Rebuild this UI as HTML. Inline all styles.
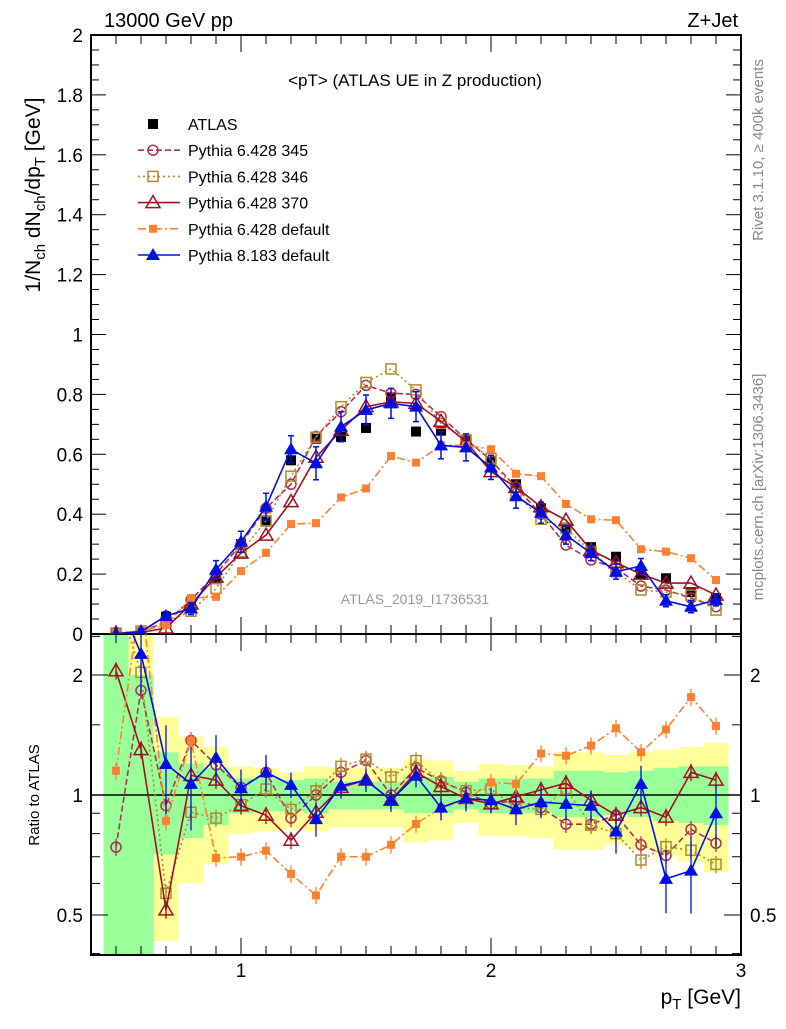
<!DOCTYPE html>
<html><head><meta charset="utf-8"><style>
body{margin:0;background:#fff;font-family:"Liberation Sans",sans-serif}
svg text{font-family:"Liberation Sans",sans-serif}
</style></head><body>
<svg id="c" width="786" height="1024" xmlns="http://www.w3.org/2000/svg"></svg>
<script>
const xs=[0.5,0.6,0.7,0.8,0.9,1.0,1.1,1.2,1.3,1.4,1.5,1.6,1.7,1.8,1.9,2.0,2.1,2.2,2.3,2.4,2.5,2.6,2.7,2.8,2.9];
const atlas=[0.003,0.005,0.058,0.09,0.183,0.3,0.375,0.58,0.652,0.658,0.688,0.79,0.676,0.679,0.648,0.575,0.5,0.42,0.355,0.29,0.258,0.2,0.186,0.14,0.12];
const p345=[0.003,0.008,0.04,0.114,0.2,0.3,0.42,0.5,0.66,0.742,0.83,0.804,0.8,0.726,0.65,0.58,0.49,0.4,0.297,0.247,0.22,0.16,0.147,0.12,0.091];
const p346=[0.003,0.01,0.04,0.076,0.152,0.275,0.378,0.527,0.657,0.759,0.84,0.885,0.815,0.703,0.648,0.586,0.47,0.383,0.352,0.275,0.208,0.147,0.14,0.13,0.08];
const p370=[0.003,0.005,0.02,0.1,0.19,0.27,0.33,0.442,0.59,0.68,0.759,0.775,0.77,0.71,0.642,0.542,0.49,0.425,0.38,0.28,0.238,0.2,0.17,0.17,0.13];
const p6def=[0.003,0.01,0.03,0.12,0.124,0.21,0.271,0.367,0.37,0.456,0.486,0.594,0.572,0.63,0.63,0.617,0.535,0.527,0.434,0.383,0.38,0.283,0.275,0.253,0.18];
const p8def=[0.001,0.008,0.06,0.085,0.215,0.308,0.425,0.617,0.57,0.692,0.748,0.77,0.759,0.63,0.623,0.556,0.46,0.405,0.33,0.27,0.208,0.227,0.111,0.091,0.114];
const p8err=[0.005,0.01,0.015,0.02,0.03,0.035,0.045,0.045,0.055,0.05,0.05,0.05,0.05,0.045,0.045,0.04,0.04,0.035,0.03,0.025,0.025,0.025,0.02,0.02,0.02];
const r345=[0.74,1.83,0.94,1.37,1.19,1.045,1.14,0.875,1.0,1.14,1.22,1.0,1.17,1.085,1.015,0.95,0.97,0.93,0.845,0.845,0.89,0.75,0.705,0.82,0.757];
const r346=[null,2.03,0.567,0.905,0.875,0.946,1.035,0.92,1.025,1.18,1.23,1.11,1.22,1.076,1.025,1.035,0.93,0.92,1.035,0.84,0.8,0.687,0.742,0.727,0.67];
const r370=[2.05,1.3,0.515,1.12,1.09,0.94,0.89,0.77,0.905,1.045,1.09,0.97,1.14,1.05,0.98,0.95,0.99,1.03,1.07,0.97,0.89,0.93,0.88,1.14,1.09];
const r6def=[1.15,null,0.86,1.37,0.695,0.7,0.725,0.634,0.56,0.7,0.7,0.75,0.846,0.93,0.97,1.076,1.066,1.27,1.255,1.33,1.47,1.28,1.46,1.76,1.49];
const r8def=[null,2.26,1.196,1.066,1.24,1.04,1.14,1.06,0.87,1.055,1.09,0.97,1.118,0.93,0.98,0.97,0.92,0.96,0.95,0.94,0.81,1.066,0.616,0.646,0.9];
const yelUp=[3,3,1.57,1.4,1.32,1.18,1.17,1.14,1.18,1.17,1.17,1.17,1.23,1.22,1.15,1.2,1.19,1.18,1.28,1.28,1.26,1.28,1.3,1.32,1.35];
const yelDn=[0.3,0.3,0.43,0.6,0.67,0.8,0.81,0.82,0.81,0.83,0.83,0.83,0.76,0.77,0.85,0.79,0.79,0.78,0.73,0.73,0.75,0.73,0.7,0.68,0.64];
const grnUp=[3,2.0,1.28,1.2,1.17,1.1,1.1,1.09,1.1,1.08,1.08,1.08,1.11,1.11,1.08,1.1,1.1,1.1,1.15,1.15,1.14,1.15,1.17,1.18,1.18];
const grnDn=[0.3,0.3,0.71,0.78,0.84,0.9,0.91,0.91,0.9,0.92,0.92,0.92,0.9,0.9,0.92,0.9,0.9,0.9,0.88,0.88,0.89,0.88,0.86,0.85,0.84];
const yTicks=[0,0.2,0.4,0.6,0.8,1,1.2,1.4,1.6,1.8,2];
const yTickLabels=["0","0.2","0.4","0.6","0.8","1","1.2","1.4","1.6","1.8","2"];
const rTicks=[0.5,1,2];const rTickLabels=["0.5","1","2"];
const xTicks=[1,2,3];const xTickLabels=["1","2","3"];

const svg=document.getElementById('c');const NS="http://www.w3.org/2000/svg";
const L=91,R=741,T=35,MB=634,RB=955;
const X=v=>L+(v-0.4)*250;
const Y=v=>MB-(v)*299.5;
const RY=r=>795-120*Math.log2(r);
function el(t,a,p){const e=document.createElementNS(NS,t);for(const k in a)e.setAttribute(k,a[k]);(p||svg).appendChild(e);return e;}
function tx(s,a){const e=el('text',a);e.textContent=s;return e;}
// clip
const defs=el('defs',{});
const cp=el('clipPath',{id:'cm'},defs);el('rect',{x:L,y:T,width:R-L,height:MB-T},cp);
const cr=el('clipPath',{id:'cr'},defs);el('rect',{x:L,y:MB,width:R-L,height:RB-MB},cr);
// bands
const gb=el('g',{'clip-path':'url(#cr)'});


xs.forEach((x,i)=>{
 const y1=RY(Math.min(yelUp[i],3)),y2=RY(Math.max(yelDn[i],0.3));
 const r=el('rect',{x:X(x-0.05),y:y1,width:25,height:y2-y1,fill:'#ffff99'},gb);
 
 
});
xs.forEach((x,i)=>{
 const y1=RY(Math.min(grnUp[i],3)),y2=RY(Math.max(grnDn[i],0.3));
 const r=el('rect',{x:X(x-0.05),y:y1,width:25,height:y2-y1,fill:'#99ff99'},gb);
 
 
});
el('line',{x1:L,x2:R,y1:795,y2:795,stroke:'#000','stroke-width':1.5});
// frames
el('rect',{x:L,y:T,width:R-L,height:MB-T,fill:'none',stroke:'#000','stroke-width':2});
el('rect',{x:L,y:MB,width:R-L,height:RB-MB,fill:'none',stroke:'#000','stroke-width':2});
// ticks
for(let v=0;v<=2.001;v+=0.05){const y=Y(v);const big=Math.abs(v*5-Math.round(v*5))<1e-6;const len=big?15:8;
 el('line',{x1:L,x2:L+len,y1:y,y2:y,stroke:'#000'});el('line',{x1:R,x2:R-len,y1:y,y2:y,stroke:'#000'});}
yTicks.forEach((v,i)=>{const t=tx(yTickLabels[i],{x:83,y:Y(v)+7,'text-anchor':'end','font-size':19});
 });
for(let v=0.4;v<=3.001;v+=0.1){const x=X(v);const big=Math.abs(v-Math.round(v))<1e-6;const len=big?17:9;
 [MB,RB].forEach(b=>el('line',{x1:x,x2:x,y1:b,y2:b-len,stroke:'#000'}));
 el('line',{x1:x,x2:x,y1:T,y2:T+len,stroke:'#000'});el('line',{x1:x,x2:x,y1:MB,y2:MB+len,stroke:'#000'});}
xTicks.forEach((v,i)=>{const t=tx(xTickLabels[i],{x:X(v),y:977,'text-anchor':'middle','font-size':19});
 });
[0.4,0.5,0.6,0.7,0.8,0.9,1,1.5,2,2.5].forEach(v=>{const y=RY(v);if(y<MB||y>RB)return;const big=rTicks.includes(v);const len=big?17:9;
 el('line',{x1:L,x2:L+len,y1:y,y2:y,stroke:'#000'});el('line',{x1:R,x2:R-len,y1:y,y2:y,stroke:'#000'});});
rTicks.forEach((v,i)=>{const t=tx(rTickLabels[i],{x:83,y:RY(v)+7,'text-anchor':'end','font-size':19});
 
 const t2=tx(rTickLabels[i],{x:750,y:RY(v)+7,'font-size':19});
 });
// markers
function marker(g,type,x,y,col){
 const s=5;
 if(type==='fsq')el('rect',{x:x-s,y:y-s,width:2*s,height:2*s,fill:col},g);
 else if(type==='osq')el('rect',{x:x-s,y:y-s,width:2*s,height:2*s,fill:'none',stroke:col,'stroke-width':1.5},g);
 else if(type==='oci')el('circle',{cx:x,cy:y,r:s,fill:'none',stroke:col,'stroke-width':1.5},g);
 else if(type==='otr')el('polygon',{points:`${x},${y-7} ${x-7},${y+5} ${x+7},${y+5}`,fill:'none',stroke:col,'stroke-width':1.5},g);
 else if(type==='ftr')el('polygon',{points:`${x},${y-7} ${x-7},${y+5} ${x+7},${y+5}`,fill:col},g);
 else if(type==='fsqs')el('rect',{x:x-4,y:y-4,width:8,height:8,fill:col},g);
}
const series=[
 {n:'pythia-6428-345',m:p345,r:r345,col:'#b03050',dash:'6,3',mk:'oci'},
 {n:'pythia-6428-346',m:p346,r:r346,col:'#b08830',dash:'2,3',mk:'osq'},
 {n:'pythia-6428-370',m:p370,r:r370,col:'#a01020',dash:'',mk:'otr'},
 {n:'pythia-6428-default',m:p6def,r:r6def,col:'#ff8030',dash:'8,3,2,3',mk:'fsqs'},
 {n:'pythia-8183-default',m:p8def,r:r8def,col:'#0010e0',dash:'',mk:'ftr',err:p8err}];
// atlas in main
const ga=el('g',{'clip-path':'url(#cm)'});


xs.forEach((x,i)=>marker(ga,'fsq',X(x),Y(atlas[i]),'#000'));
series.forEach(s=>{
 const g=el('g',{'clip-path':'url(#cm)'});
 
 
 el('polyline',{points:xs.map((x,i)=>X(x)+','+Y(s.m[i])).join(' '),fill:'none',stroke:s.col,'stroke-width':1.6,'stroke-dasharray':s.dash},g);
 if(s.err)xs.forEach((x,i)=>{const e=s.err[i];el('line',{x1:X(x),x2:X(x),y1:Y(s.m[i]+e),y2:Y(s.m[i]-e),stroke:s.col,'stroke-width':1.5},g);
  [e,-e].forEach(d=>el('line',{x1:X(x)-3,x2:X(x)+3,y1:Y(s.m[i]+d),y2:Y(s.m[i]+d),stroke:s.col,'stroke-width':1.5},g));});
 xs.forEach((x,i)=>marker(g,s.mk,X(x),Y(s.m[i]),s.col));
 const gr=el('g',{'clip-path':'url(#cr)'});
 
 
 let segs=[],cur=[];
 xs.forEach((x,i)=>{const v=s.r[i];if(v==null){cur.push(X(x)+','+(MB-40));}else cur.push(X(x)+','+RY(v));});
 el('polyline',{points:cur.join(' '),fill:'none',stroke:s.col,'stroke-width':1.6,'stroke-dasharray':s.dash},gr);
 xs.forEach((x,i)=>{const v=s.r[i];if(v==null)return;const e=(s.err?s.err[i]/Math.max(s.m[i],0.05):0.05);
  el('line',{x1:X(x),x2:X(x),y1:RY(v*(1+e)),y2:RY(Math.max(v*(1-e),0.3)),stroke:s.col,'stroke-width':1.3},gr);
  marker(gr,s.mk,X(x),RY(v),s.col);});
});
// legend
const lg=el('g',{});


const lrows=[['ATLAS','#000','', 'fsq'],['Pythia 6.428 345','#b03050','6,3','oci'],['Pythia 6.428 346','#b08830','2,3','osq'],['Pythia 6.428 370','#a01020','','otr'],['Pythia 6.428 default','#ff8030','8,3,2,3','fsqs'],['Pythia 8.183 default','#0010e0','','ftr']];
lrows.forEach((r,i)=>{const y=124+i*26.2;
 if(i>0)el('line',{x1:138,x2:180,y1:y,y2:y,stroke:r[1],'stroke-width':1.6,'stroke-dasharray':r[2]},lg);
 marker(lg,r[3],153,y,r[1]);
 const t=tx(r[0],{x:188,y:y+6,'font-size':16});
 lg.appendChild(t);});
// texts
function label(s,a,name){const t=tx(s,a);return t;}
label('13000 GeV pp',{x:104,y:27,'font-size':20},'energy-label');
label('Z+Jet',{x:738,y:27,'font-size':20,'text-anchor':'end'},'process-label');
label('<pT> (ATLAS UE in Z production)',{x:415,y:86,'font-size':17,'text-anchor':'middle'},'plot-title');
label('ATLAS_2019_I1736531',{x:415,y:604,'font-size':14,'text-anchor':'middle',fill:'#999'},'analysis-id');
label('Rivet 3.1.10, ≥ 400k events',{x:0,y:0,'font-size':15,fill:'#888','text-anchor':'middle',transform:'translate(763,150) rotate(-90)'},'rivet-label');
label('mcplots.cern.ch [arXiv:1306.3436]',{x:0,y:0,'font-size':15,fill:'#888','text-anchor':'middle',transform:'translate(763,487) rotate(-90)'},'mcplots-label');
const yl=label('',{x:0,y:0,'font-size':21,'text-anchor':'middle',transform:'translate(40,195) rotate(-90)'},'y-axis-title');
yl.innerHTML='1/N<tspan font-size="15" dy="5">ch</tspan><tspan dy="-5"> dN</tspan><tspan font-size="15" dy="5">ch</tspan><tspan dy="-5">/dp</tspan><tspan font-size="15" dy="5">T</tspan><tspan dy="-5"> [GeV]</tspan>';
label('Ratio to ATLAS',{x:0,y:0,'font-size':15,'text-anchor':'middle',transform:'translate(39,795) rotate(-90)'},'ratio-axis-title');
const xl=label('',{x:741,y:1004,'font-size':21,'text-anchor':'end'},'x-axis-title');
xl.innerHTML='p<tspan font-size="15" dy="5">T</tspan><tspan dy="-5"> [GeV]</tspan>';
</script>
</body></html>
